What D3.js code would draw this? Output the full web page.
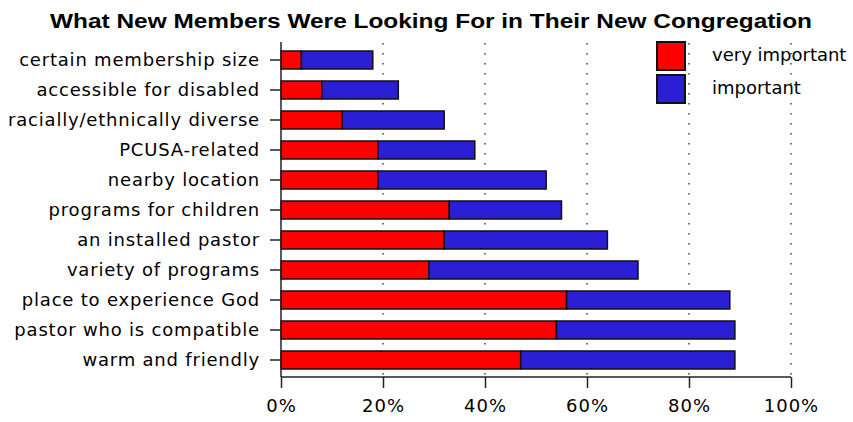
<!DOCTYPE html>
<html>
<head>
<meta charset="utf-8">
<script src="https://cdn.jsdelivr.net/npm/d3@7"></script>
<style>
  body { margin: 0; background: #fff; }
  text { font-family: "DejaVu Sans", "Liberation Sans", sans-serif; }
</style>
</head>
<body>
<svg id="chart"></svg>
<script>
// data (percent of new members)
let categories = ["certain membership size", "accessible for disabled", "racially/ethnically diverse",
    "PCUSA-related", "nearby location", "programs for children", "an installed pastor",
    "variety of programs", "place to experience God", "pastor who is compatible", "warm and friendly"]
let veryImportant = [4, 8, 12, 19, 19, 33, 32, 29, 56, 54, 47]
let important = [14, 15, 20, 19, 33, 22, 32, 41, 32, 35, 42]
let seriesNames = ["very important", "important"]
let xTicks = [0, 20, 40, 60, 80, 100]

let colors = ["#ff0000", "#2a1fd4"]
let labelFont = "18px"

let svg = d3.select("#chart").attr("width", 853).attr("height", 422)

// scales
let x = d3.scaleLinear().domain([0, 100]).range([281, 791])
let y = d3.scaleBand().domain(categories).range([45, 375]).paddingInner(0.4).paddingOuter(0.2)
let axisY = 377

// title
svg.append("text")
    .attr("x", 50).attr("y", 28)
    .attr("textLength", 762).attr("lengthAdjust", "spacingAndGlyphs")
    .style("font-family", "Liberation Sans, Arial, sans-serif")
    .style("font-size", "20px").style("font-weight", "bold")
    .text("What New Members Were Looking For in Their New Congregation")

// dotted grid lines
svg.append("g").selectAll("line")
    .data(xTicks.slice(1))
    .join("line")
    .attr("x1", d => x(d)).attr("x2", d => x(d))
    .attr("y1", 43).attr("y2", axisY)
    .attr("stroke", "#444")
    .attr("stroke-width", 1.5)
    .attr("stroke-dasharray", "1.5,8.5")

// stacked bars
let rows = categories.map((c, i) => ({cat: c, very: veryImportant[i], imp: important[i]}))
let stack = d3.stack().keys(["very", "imp"])(rows)

svg.append("g").selectAll("g")
    .data(stack)
    .join("g")
    .attr("fill", (d, i) => colors[i])
    .selectAll("rect")
    .data(d => d)
    .join("rect")
    .attr("x", d => x(d[0]))
    .attr("y", d => y(d.data.cat))
    .attr("width", d => x(d[1]) - x(d[0]))
    .attr("height", y.bandwidth())
    .attr("stroke", "#111")
    .attr("stroke-width", 1.5)

// y axis
let yAxis = d3.axisLeft(y).tickSize(11).tickPadding(10)
let gy = svg.append("g")
    .attr("transform", "translate(281,0)")
    .call(yAxis)
gy.select(".domain").attr("d", "M0,42V" + axisY)
gy.selectAll("text")
    .attr("font-family", "DejaVu Sans, sans-serif").style("font-size", labelFont)
    .style("letter-spacing", "0.8px").attr("fill", "#000")
gy.selectAll("line, path").attr("stroke", "#222").attr("stroke-width", 1.5)

// x axis
let xAxis = d3.axisBottom(x).tickValues(xTicks).tickSize(11).tickPadding(11).tickFormat(d => d + "%")
let gx = svg.append("g")
    .attr("transform", "translate(0," + axisY + ")")
    .call(xAxis)
gx.select(".domain").attr("d", "M281,0H791")
gx.selectAll("text")
    .attr("font-family", "DejaVu Sans, sans-serif").style("font-size", labelFont)
    .style("letter-spacing", "1px").attr("fill", "#000")
gx.selectAll("line, path").attr("stroke", "#222").attr("stroke-width", 1.5)

// legend
let legend = svg.append("g").attr("transform", "translate(657,42)")
seriesNames.forEach(function (name, i) {
    legend.append("rect")
        .attr("x", 0).attr("y", i * 33)
        .attr("width", 28).attr("height", 28)
        .attr("fill", colors[i])
        .attr("stroke", "#111").attr("stroke-width", 2)
    legend.append("text")
        .attr("x", 55).attr("y", i * 33 + 14)
        .attr("dominant-baseline", "middle")
        .style("font-size", labelFont)
        .text(name)
})
</script>
</body>
</html>
